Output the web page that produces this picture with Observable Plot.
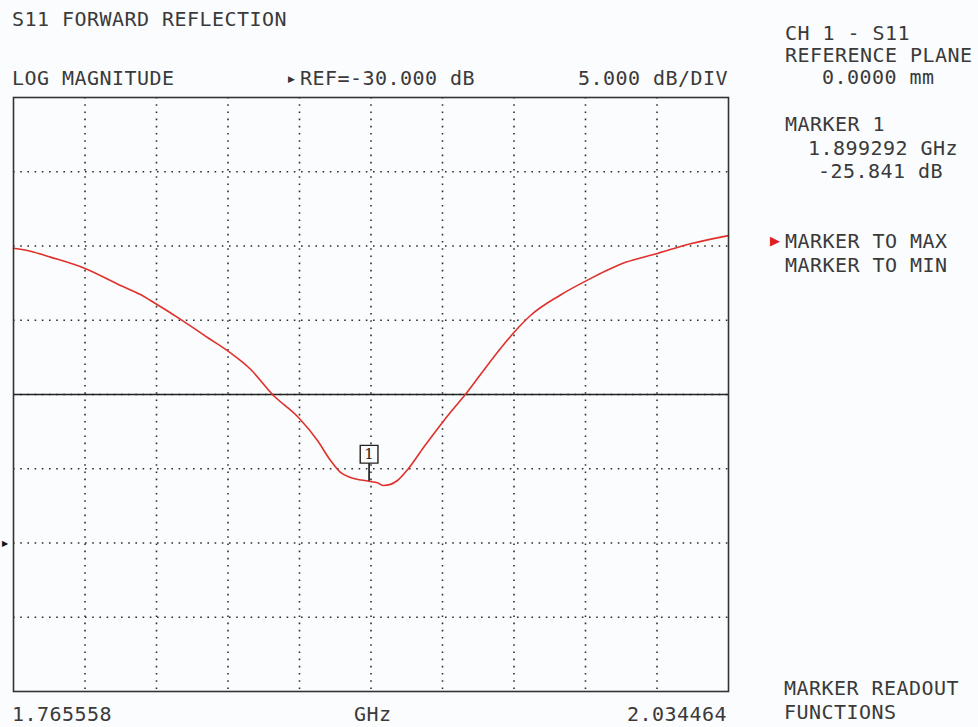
<!DOCTYPE html>
<html>
<head>
<meta charset="utf-8">
<script src="https://cdn.jsdelivr.net/npm/d3@7"></script>
<script src="https://cdn.jsdelivr.net/npm/@observablehq/plot@0.6"></script>
<style>
  html, body { margin: 0; padding: 0; background: #fbfcfd; }
  #wrap { position: relative; width: 978px; height: 727px; overflow: hidden; background: #fbfcfd; }
  #wrap svg { position: absolute; left: 0; top: 0; }
  .t { position: absolute; font-family: "DejaVu Sans Mono", "Liberation Mono", monospace;
       font-size: 20px; line-height: 20px; letter-spacing: 0.46px; color: #3a3a3a; white-space: pre; }
  .arrow { position: absolute; font-family: "DejaVu Sans", sans-serif; font-size: 12px; line-height: 12px; }
</style>
</head>
<body>
<div id="wrap"></div>
<script>
// ---- data ----
const freqStart = 1.765558;   // GHz
const freqStop  = 2.034464;   // GHz
const xDivisions = 10;
const refLevel = -30;          // dB
const dbPerDiv = 5;
const limitLine = -20;         // dB (solid line)
const yTicks = [-40, -35, -30, -25, -20, -15, -10, -5, 0];

const freqGHz = [1.765558, 1.771952, 1.779473, 1.792261, 1.805800, 1.813322, 1.817083, 1.829118,
  1.838520, 1.847170, 1.854692, 1.862966, 1.872744, 1.879890, 1.884779, 1.888540, 1.892301,
  1.899292, 1.902455, 1.904712, 1.909977, 1.914114, 1.919756, 1.926149, 1.929910, 1.935928,
  1.941193, 1.948715, 1.955108, 1.959998, 1.971280, 1.981435, 1.995726, 2.007761, 2.020172, 2.034464];
const s11dB = [-10.15, -10.35, -10.75, -11.5, -12.66, -13.27, -13.67, -15.02,
  -16.16, -17.2, -18.3, -20.0, -21.55, -23.1, -24.44, -25.25, -25.59,
  -25.84, -25.95, -26.13, -25.79, -24.98, -23.57, -22.05, -21.2, -19.9,
  -18.65, -16.9, -15.56, -14.68, -13.3, -12.3, -11.1, -10.5, -9.85, -9.3];

const markerFreq = 1.899292;
const markerDb = -25.841;

const headerTexts = ["S11 FORWARD REFLECTION", "LOG MAGNITUDE", "REF=-30.000 dB", "5.000 dB/DIV"];
const sideTexts = ["CH 1 - S11", "REFERENCE PLANE", "0.0000 mm", "MARKER 1", "MARKER TO MAX", "MARKER TO MIN", "MARKER READOUT", "FUNCTIONS"];
const axisTexts = ["1.765558", "GHz", "2.034464"];

// ---- build ----
const data = freqGHz.map((f, i) => ({f, db: s11dB[i]}));
const xGrid = d3.range(xDivisions + 1).map(i => freqStart + i * (freqStop - freqStart) / xDivisions);

const ink = "#2e2e2e";
const chart = Plot.plot({
  width: 978,
  height: 727,
  marginLeft: 13,
  marginRight: 250,
  marginTop: 97,
  marginBottom: 36,
  style: {background: "transparent"},
  x: {domain: [freqStart, freqStop], axis: null},
  y: {domain: [-40, 0], axis: null},
  marks: [
    Plot.ruleX(xGrid.slice(1, -1), {stroke: ink, strokeWidth: 1.6, strokeDasharray: "1.6,5.6"}),
    Plot.ruleY(yTicks.slice(1, -1), {stroke: ink, strokeWidth: 1.6, strokeDasharray: "1.6,5.6"}),
    Plot.ruleY([limitLine], {stroke: "#222", strokeWidth: 1.6}),
    Plot.line(data, {x: "f", y: "db", stroke: "#e0302c", strokeWidth: 1.6, curve: "monotone-x"}),
    Plot.ruleX([markerFreq], {y1: markerDb, y2: markerDb + 1.2, stroke: "#111", strokeWidth: 1.6}),
    Plot.dot([markerFreq], {x: d => d, y: markerDb, symbol: "square", r: 10, dy: -27, fill: "#fbfcfd", stroke: "#222", strokeWidth: 1.4}),
    Plot.text([markerFreq], {x: d => d, y: markerDb, text: () => "1", dy: -27, fontSize: 15, fontFamily: "DejaVu Serif, serif", fill: "#222"}),
    Plot.text([refLevel], {x: freqStart, y: d => d, text: () => "▶", dx: -9, fontSize: 8, fill: "#111"}),
    Plot.frame({stroke: "#333", strokeWidth: 1.6})
  ]
});
const wrap = document.getElementById("wrap");
wrap.appendChild(chart);

function addText(str, x, baseline, cls = "t", color) {
  const d = document.createElement("div");
  d.className = cls;
  d.textContent = str;
  d.style.left = x + "px";
  d.style.top = (baseline - 17) + "px";
  if (color) d.style.color = color;
  wrap.appendChild(d);
  return d;
}
addText(headerTexts[0], 12, 26);
addText(headerTexts[1], 12, 85);
addText(headerTexts[2], 300, 85);
const a1 = document.createElement("div"); a1.className = "arrow"; a1.textContent = "▶";
a1.style.left = "288px"; a1.style.top = "73px"; a1.style.color = "#333"; a1.style.fontSize = "9px"; wrap.appendChild(a1);
addText(headerTexts[3], 578, 85);

addText(sideTexts[0], 785, 40);
addText(sideTexts[1], 785, 62);
addText(sideTexts[2], 822, 84);
addText(sideTexts[3], 785, 131);
addText(markerFreq.toFixed(6) + " GHz", 808, 155);
addText(markerDb.toFixed(3) + " dB", 818, 178);
const a2 = document.createElement("div"); a2.className = "arrow"; a2.textContent = "▶";
a2.style.left = "770px"; a2.style.top = "235px"; a2.style.color = "#e02020"; a2.style.fontSize = "13px"; wrap.appendChild(a2);
addText(sideTexts[4], 785, 248);
addText(sideTexts[5], 785, 272);
addText(sideTexts[6], 784, 695);
addText(sideTexts[7], 784, 719);

addText(axisTexts[0], 12, 721);
addText(axisTexts[1], 354, 721);
addText(axisTexts[2], 627, 721);
</script>
</body>
</html>
